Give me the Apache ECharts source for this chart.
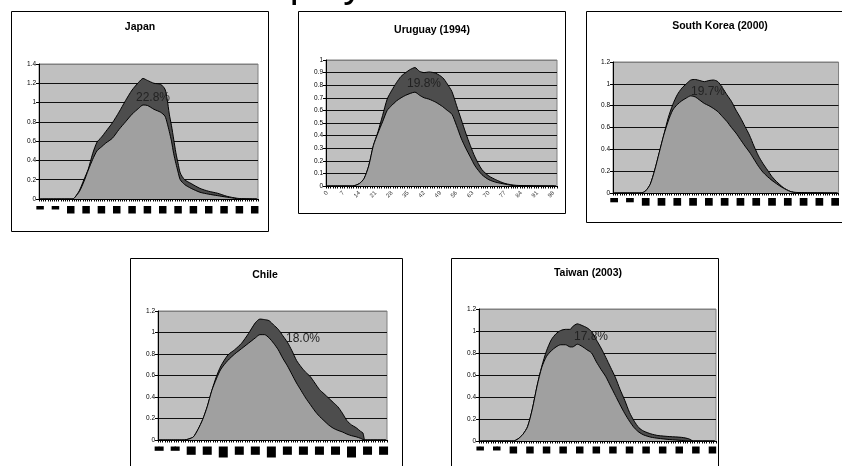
<!DOCTYPE html>
<html><head><meta charset="utf-8">
<script src="https://cdn.jsdelivr.net/npm/echarts/dist/echarts.min.js"></script>
<style>html,body{margin:0;padding:0;background:#fff}#c{width:842px;height:466px}</style>
</head><body><div id="c"></div><script>
// ---- data ----
const ageCategories = [0,1,2,3,4,5,6,7,8,9,10,11,12,13,14,15,16,17,18,19,20,21,22,23,24,25,26,27,28,29,30,31,32,33,34,35,36,37,38,39,40,41,42,43,44,45,46,47,48,49,50,51,52,53,54,55,56,57,58,59,60,61,62,63,64,65,66,67,68,69,70,71,72,73,74,75,76,77,78,79,80,81,82,83,84,85,86,87,88,89,90,91,92,93,94,95,96,97,98,99];

const japanAges     = [0, 15, 16, 18, 20, 22, 24, 26, 28, 30, 33, 36, 39, 42, 45, 47, 49, 52, 55, 57, 58, 59, 60, 61, 62, 63, 64, 66, 69, 73, 77, 81, 85, 88, 91, 99];
const japanEarnings = [0, 0, 0.02, 0.08, 0.18, 0.3, 0.41, 0.5, 0.54, 0.58, 0.63, 0.72, 0.8, 0.88, 0.94, 0.975, 0.97, 0.93, 0.9, 0.86, 0.79, 0.7, 0.6, 0.47, 0.37, 0.28, 0.2, 0.15, 0.11, 0.07, 0.05, 0.035, 0.02, 0.01, 0, 0];
const japanTotal    = [0, 0, 0.02, 0.09, 0.2, 0.31, 0.47, 0.59, 0.64, 0.7, 0.79, 0.9, 1.02, 1.13, 1.21, 1.25, 1.23, 1.2, 1.19, 1.14, 1.04, 0.88, 0.76, 0.62, 0.48, 0.37, 0.27, 0.2, 0.16, 0.11, 0.08, 0.06, 0.03, 0.015, 0.005, 0];

const uruguayAges     = [0, 11, 14, 16, 18, 20, 22, 24, 26, 28, 30, 32, 34, 36, 38, 40, 42, 44, 47, 50, 52, 54, 56, 58, 60, 62, 64, 67, 70, 73, 77, 82, 99];
const uruguayEarnings = [0, 0, 0.02, 0.06, 0.16, 0.32, 0.42, 0.51, 0.6, 0.64, 0.675, 0.7, 0.72, 0.735, 0.745, 0.72, 0.7, 0.69, 0.665, 0.63, 0.6, 0.57, 0.48, 0.38, 0.3, 0.23, 0.16, 0.09, 0.05, 0.03, 0.015, 0, 0];
const uruguayTotal    = [0, 0, 0.02, 0.06, 0.16, 0.32, 0.43, 0.56, 0.69, 0.76, 0.82, 0.87, 0.9, 0.925, 0.94, 0.91, 0.9, 0.905, 0.895, 0.86, 0.81, 0.75, 0.64, 0.53, 0.42, 0.32, 0.23, 0.13, 0.08, 0.05, 0.02, 0.005, 0];

const koreaAges     = [0, 12, 14, 16, 18, 20, 22, 24, 26, 28, 30, 32, 34, 36, 38, 40, 42, 44, 46, 48, 50, 52, 54, 56, 58, 60, 62, 64, 66, 68, 70, 72, 75, 78, 81, 99];
const koreaEarnings = [0, 0, 0.02, 0.08, 0.21, 0.37, 0.53, 0.66, 0.76, 0.81, 0.845, 0.87, 0.89, 0.88, 0.85, 0.82, 0.8, 0.775, 0.745, 0.7, 0.655, 0.6, 0.55, 0.49, 0.43, 0.375, 0.31, 0.245, 0.19, 0.15, 0.115, 0.085, 0.045, 0.015, 0, 0];
const koreaTotal    = [0, 0, 0.02, 0.08, 0.21, 0.37, 0.53, 0.69, 0.81, 0.9, 0.96, 1.0, 1.035, 1.04, 1.03, 1.02, 1.03, 1.035, 1.02, 0.965, 0.9, 0.84, 0.76, 0.69, 0.61, 0.53, 0.43, 0.34, 0.27, 0.21, 0.15, 0.105, 0.05, 0.015, 0.005, 0];

const chileAges     = [0, 11, 13, 15, 17, 19, 21, 23, 25, 27, 30, 33, 36, 39, 42, 44, 46, 48, 50, 52, 54, 56, 58, 60, 62, 64, 66, 68, 70, 72, 74, 76, 78, 80, 82, 84, 86, 88, 89, 90, 99];
const chileEarnings = [0, 0, 0.01, 0.03, 0.1, 0.19, 0.31, 0.46, 0.57, 0.66, 0.74, 0.8, 0.85, 0.9, 0.95, 0.98, 0.98, 0.95, 0.9, 0.84, 0.76, 0.69, 0.61, 0.53, 0.46, 0.39, 0.33, 0.27, 0.22, 0.18, 0.14, 0.11, 0.09, 0.075, 0.055, 0.04, 0.03, 0.015, 0.005, 0, 0];
const chileTotal    = [0, 0, 0.01, 0.03, 0.1, 0.19, 0.31, 0.46, 0.59, 0.69, 0.79, 0.84, 0.9, 0.99, 1.09, 1.125, 1.12, 1.11, 1.07, 1.03, 0.97, 0.91, 0.83, 0.74, 0.68, 0.63, 0.59, 0.53, 0.47, 0.43, 0.39, 0.35, 0.31, 0.25, 0.18, 0.14, 0.115, 0.08, 0.065, 0, 0];

const taiwanAges     = [0, 14, 16, 18, 20, 22, 24, 26, 28, 30, 32, 34, 36, 38, 39, 41, 43, 45, 47, 49, 51, 53, 55, 57, 59, 61, 63, 65, 67, 69, 72, 75, 80, 85, 88, 90, 99];
const taiwanEarnings = [0, 0, 0.02, 0.06, 0.13, 0.29, 0.5, 0.67, 0.77, 0.82, 0.855, 0.875, 0.875, 0.855, 0.855, 0.88, 0.86, 0.83, 0.8, 0.72, 0.65, 0.585, 0.5, 0.415, 0.33, 0.25, 0.18, 0.12, 0.08, 0.055, 0.035, 0.025, 0.013, 0.005, 0, 0, 0];
const taiwanTotal    = [0, 0, 0.02, 0.06, 0.13, 0.29, 0.5, 0.68, 0.82, 0.92, 0.975, 1.005, 1.015, 1.015, 1.04, 1.065, 1.05, 1.03, 0.995, 0.92, 0.845, 0.76, 0.67, 0.58, 0.47, 0.37, 0.26, 0.18, 0.12, 0.09, 0.065, 0.05, 0.04, 0.033, 0.02, 0, 0];

const panelTitles = ['Japan', 'Uruguay (1994)', 'South Korea (2000)', 'Chile', 'Taiwan (2003)'];
const shareLabels = ['22.8%', '19.8%', '19.7%', '18.0%', '17.8%'];
const pageTitle = 'Self-employment';

// ---- layout / styles ----
const FONT = "'Liberation Sans', Arial, sans-serif";
const panels = [
  { ages: japanAges, earn: japanEarnings, total: japanTotal, yMax: 1.4, yStep: 0.2,
    box: [11, 11, 257, 220], grid: { left: 39, top: 64, width: 219, height: 135 }, titleXY: [140, 27], pctXY: [153, 98],
    lab: { kind: 'box', margin: 7, w: 7.5, hf: 3.5, hs: 7.5, ht: 7.5 } },
  { ages: uruguayAges, earn: uruguayEarnings, total: uruguayTotal, yMax: 1, yStep: 0.1,
    box: [298, 11, 267, 202], grid: { left: 326, top: 60, width: 231, height: 126 }, titleXY: [432, 30], pctXY: [424, 84],
    lab: { kind: 'rot', margin: 6 } },
  { ages: koreaAges, earn: koreaEarnings, total: koreaTotal, yMax: 1.2, yStep: 0.2,
    box: [586, 11, 270, 211], grid: { left: 613, top: 62, width: 227, height: 131 }, titleXY: [720, 26], pctXY: [708, 92],
    lab: { kind: 'box', margin: 5, w: 7.7, hf: 4.3, hs: 7.7, ht: 7.7 } },
  { ages: chileAges, earn: chileEarnings, total: chileTotal, yMax: 1.2, yStep: 0.2,
    box: [130, 258, 272, 230], grid: { left: 158, top: 311, width: 229, height: 129 }, titleXY: [265, 275], pctXY: [303, 339],
    lab: { kind: 'box', margin: 6.5, w: 9, hf: 4.3, hs: 8.3, ht: 11, tall: ['28', '49', '84'] } },
  { ages: taiwanAges, earn: taiwanEarnings, total: taiwanTotal, yMax: 1.2, yStep: 0.2,
    box: [451, 258, 267, 230], grid: { left: 479, top: 309, width: 237, height: 132 }, titleXY: [588, 273], pctXY: [591, 337],
    lab: { kind: 'box', margin: 5.5, w: 7.5, hf: 4, hs: 7, ht: 7 } }
];

const grids = [], xAxes = [], yAxes = [], series = [], graphics = [];

panels.forEach((p, i) => {
  grids.push(Object.assign({ show: true, backgroundColor: '#c0c0c0', borderColor: '#808080', borderWidth: 1, containLabel: false }, p.grid));

  let axisLabel;
  if (p.lab.kind === 'box') {
    const L = p.lab;
    axisLabel = {
      interval: 6, margin: L.margin,
      formatter: (v) => {
        const s = String(v);
        if (s.length === 1) return '{f|' + s + '}';
        if (L.tall && L.tall.indexOf(s) >= 0) return '{t|' + s + '}';
        return '{s|' + s + '}';
      },
      rich: {
        f: { width: L.w, height: L.hf, lineHeight: L.hf, backgroundColor: '#000', color: '#000', fontSize: 3, align: 'center' },
        s: { width: L.w, height: L.hs, lineHeight: L.hs, backgroundColor: '#000', color: '#000', fontSize: 5, align: 'center' },
        t: { width: L.w, height: L.ht, lineHeight: L.ht, backgroundColor: '#000', color: '#000', fontSize: 5, align: 'center' }
      }
    };
  } else {
    axisLabel = { interval: 6, margin: p.lab.margin, rotate: 45, fontSize: 6, color: '#333', fontFamily: FONT };
  }

  xAxes.push({
    type: 'category', gridIndex: i, data: ageCategories, boundaryGap: true,
    axisLine: { show: true, lineStyle: { color: '#000', width: 1 } },
    axisTick: { show: true, interval: 0, length: 2.5, lineStyle: { color: '#000', width: 1 } },
    axisLabel: axisLabel,
    splitLine: { show: false }
  });

  const nLines = Math.round(p.yMax / p.yStep) + 1;
  const splitColors = [];
  for (let k = 0; k < nLines; k++) splitColors.push(k === nLines - 1 ? '#808080' : '#111');
  yAxes.push({
    type: 'value', gridIndex: i, min: 0, max: p.yMax, interval: p.yStep,
    axisLine: { show: true, lineStyle: { color: '#000', width: 1 } },
    axisTick: { show: true, length: 3, lineStyle: { color: '#000' } },
    axisLabel: { fontSize: 6.5, color: '#000', margin: 3, fontFamily: FONT, formatter: (v) => String(+v.toFixed(1)) },
    splitLine: { show: true, lineStyle: { color: splitColors, width: 1 } }
  });

  series.push({
    type: 'line', xAxisIndex: i, yAxisIndex: i, symbol: 'none', smooth: 0.25, z: 2,
    data: p.ages.map((a, k) => [a, p.total[k]]),
    lineStyle: { color: '#000', width: 1 }, areaStyle: { color: '#4d4d4d', opacity: 1 }
  });
  series.push({
    type: 'line', xAxisIndex: i, yAxisIndex: i, symbol: 'none', smooth: 0.25, z: 3,
    data: p.ages.map((a, k) => [a, p.earn[k]]),
    lineStyle: { color: '#000', width: 1 }, areaStyle: { color: '#a0a0a0', opacity: 1 }
  });

  graphics.push({ type: 'rect', z: 100, silent: true,
    shape: { x: p.box[0] + 0.5, y: p.box[1] + 0.5, width: p.box[2], height: p.box[3] },
    style: { fill: null, stroke: '#000', lineWidth: 1 } });
  graphics.push({ type: 'text', z: 100, silent: true, x: p.titleXY[0], y: p.titleXY[1],
    style: { text: panelTitles[i], font: 'bold 10.5px ' + FONT, fill: '#000', align: 'center', verticalAlign: 'middle' } });
  graphics.push({ type: 'text', z: 100, silent: true, x: p.pctXY[0], y: p.pctXY[1],
    style: { text: shareLabels[i], font: '12px ' + FONT, fill: '#222', align: 'center', verticalAlign: 'middle' } });
});

graphics.push({ type: 'text', z: 100, silent: true, x: 152, y: -14,
  style: { text: pageTitle, font: '40px ' + FONT, fill: '#000', align: 'left', verticalAlign: 'middle' } });

const chart = echarts.init(document.getElementById('c'), null, { renderer: 'canvas' });
chart.setOption({
  animation: false,
  backgroundColor: '#fff',
  grid: grids, xAxis: xAxes, yAxis: yAxes, series: series, graphic: graphics
});
</script></body></html>
